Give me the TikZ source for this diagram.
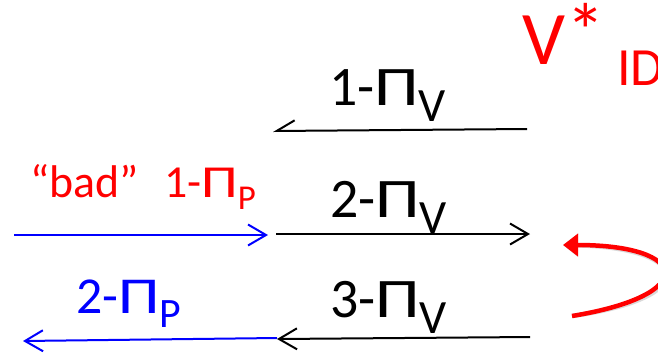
\documentclass[tikz,border=0pt]{standalone}
\usepackage{fontspec}
\setmainfont{Carlito}
\usetikzlibrary{arrows.meta}
\newcommand{\fs}[1]{\fontsize{#1}{#1}\selectfont}
\newcommand{\lsub}[3]{\raisebox{-#2}{\fs{#1}#3}}
\newcommand{\wPi}{\scalebox{1.28}[1]{Π}}
\definecolor{pblue}{RGB}{0,0,255}
\definecolor{pred}{RGB}{255,0,0}
\tikzset{
  lbl/.style={anchor=base west, inner sep=0pt, outer sep=0pt},
  thinarrow/.style={line width=2bp, -{Straight Barb[length=18bp,width=21bp]}},
  halfarrow/.style={line width=2bp, -{Straight Barb[harpoon,swap,length=18bp,width=21bp]}},
  bigarrow/.style={line width=4.5bp, pred, -{Triangle[length=15bp,width=22bp]}},
}
\begin{document}
\begin{tikzpicture}[x=1bp,y=-1bp]
\useasboundingbox (0,0) rectangle (658,352);
\clip (0,0) rectangle (658,352);
% end points
\coordinate (a1s) at (527,129);
\coordinate (a1e) at (273,131);
\coordinate (a2s) at (276,234);
\coordinate (a2e) at (530,234);
\coordinate (b1s) at (14,235);
\coordinate (b1e) at (268,235);
\coordinate (a3s) at (530,337);
\coordinate (a3e) at (277,339);
\coordinate (b2s) at (277,338);
\coordinate (b2e) at (23,341);
\coordinate (rs) at (572,316);
\coordinate (re) at (563,245);
% arrows
\draw[halfarrow] (a1s) -- (a1e);
\draw[thinarrow] (a2s) -- (a2e);
\draw[thinarrow, pblue] (b1s) -- (b1e);
\draw[thinarrow] (a3s) -- (a3e);
\draw[thinarrow, pblue] (b2s) -- (b2e);
% red loop arrow with faint shadow
\draw[bigarrow, black, opacity=0.15, shift={(2,3)}] (rs) .. controls (700,295) and (690,245) .. (re);
\draw[bigarrow] (rs) .. controls (700,295) and (690,245) .. (re);
% labels
\node[lbl, font=\fs{56}] (l1) at (329,105) {1-\wPi\lsub{48}{16bp}{V}};
\node[lbl, font=\fs{56}] (l2) at (330,217) {2-\wPi\lsub{48}{16bp}{V}};
\node[lbl, font=\fs{56}] (l3) at (330,317) {3-\wPi\lsub{48}{16bp}{V}};
\node[lbl, font=\fs{46}, pred] (bad) at (30,197) {“bad”};
\node[lbl, font=\fs{46}, pred] (p1) at (164,197) {1-\wPi\lsub{35}{12bp}{P}};
\node[lbl, font=\fs{52}, pblue] (p2) at (76,313) {2-\wPi\lsub{42}{14bp}{P}};
\node[lbl, font=\fs{76}, pred] (v) at (522,64) {V};
\node[lbl, font=\fs{78}, pred] (star) at (566,58) {*};
\node[lbl, font=\fs{54}, pred] (id) at (617,85) {ID};
\end{tikzpicture}
\end{document}
